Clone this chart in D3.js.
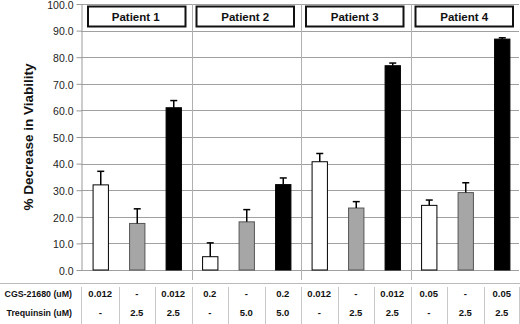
<!DOCTYPE html>
<html>
<head>
<meta charset="utf-8">
<script src="https://cdn.jsdelivr.net/npm/d3@7"></script>
<style>
  body { margin: 0; background: #fff; }
  text { font-family: "Liberation Sans", Arial, sans-serif; }
</style>
</head>
<body>
<svg id="chart"></svg>
<script>
// data
const patients = ["Patient 1", "Patient 2", "Patient 3", "Patient 4"];
const treatments = ["CGS-21680", "Trequinsin", "Combination"];
const values = [32.0, 17.5, 61.0, 5.0, 18.1, 32.1, 40.7, 23.3, 76.8, 24.3, 29.1, 86.8];
const errors = [5.1, 5.5, 2.7, 5.2, 4.6, 2.5, 3.1, 2.4, 1.0, 2.0, 3.7, 0.5];
const cgsRow = ["0.012", "-", "0.012", "0.2", "-", "0.2", "0.012", "-", "0.012", "0.05", "-", "0.05"];
const treqRow = ["-", "2.5", "2.5", "-", "5.0", "5.0", "-", "2.5", "2.5", "-", "2.5", "2.5"];
const rowLabels = ["CGS-21680 (uM)", "Trequinsin (uM)"];
const yTicks = [0, 10, 20, 30, 40, 50, 60, 70, 80, 90, 100];

const width = 520;
const height = 324;
const svg = d3.select('svg#chart').attr('width', width).attr('height', height);

const axisX = 81;
const plotRight = 519;

const bars = values.map((v, i) => ({
  i: i,
  patient: patients[Math.floor(i / 3)],
  treatment: treatments[i % 3],
  value: v,
  err: errors[i]
}));

const x = d3.scaleBand()
  .domain(d3.range(bars.length))
  .range([82, 520])
  .paddingInner(0.58)
  .paddingOuter(0.29);

const y = d3.scaleLinear().domain([0, 100]).range([270, 4]);

const fills = { "CGS-21680": "#ffffff", "Trequinsin": "#a6a6a6", "Combination": "#000000" };

// horizontal gridlines
svg.append('g').selectAll('line').data(yTicks).enter().append('line')
  .attr('x1', axisX).attr('x2', plotRight)
  .attr('y1', d => Math.round(y(d)) + 0.5).attr('y2', d => Math.round(y(d)) + 0.5)
  .attr('stroke', '#a0a0a0').attr('stroke-width', 1);

// vertical group separators
const step = x.step();
const groupEdges = [3, 6, 9].map(k => x(k) - step * x.paddingInner() / 2);
svg.append('g').selectAll('line').data(groupEdges).enter().append('line')
  .attr('x1', d => Math.round(d) + 0.5).attr('x2', d => Math.round(d) + 0.5)
  .attr('y1', y(100)).attr('y2', 280)
  .attr('stroke', '#b0b0b0').attr('stroke-width', 1);

// y axis
const yAxis = d3.axisLeft(y).tickValues(yTicks).tickFormat(d3.format('.1f'))
  .tickSizeInner(5).tickSizeOuter(0).tickPadding(3);
const yg = svg.append('g').attr('transform', `translate(${axisX + 0.5},0)`).call(yAxis);
yg.select('.domain').attr('stroke', '#999');
yg.selectAll('.tick line').attr('stroke', '#999');
yg.selectAll('.tick text').attr('font-size', 10.5).attr('fill', '#222')
  .attr('dy', '0.4em')
  .style('font-family', '"Liberation Sans", Arial, sans-serif');

// y label
svg.append('text')
  .attr('transform', `translate(33, ${(y(0) + y(100)) / 2}) rotate(-90)`)
  .attr('text-anchor', 'middle')
  .attr('font-size', 13.5).attr('font-weight', 'bold').attr('fill', '#111')
  .text('% Decrease in Viability');

// bars
svg.append('g').selectAll('rect').data(bars).enter().append('rect')
  .attr('x', d => x(d.i) + 0.5)
  .attr('y', d => y(d.value))
  .attr('width', x.bandwidth())
  .attr('height', d => y(0) - y(d.value))
  .attr('fill', d => fills[d.treatment])
  .attr('stroke', d => d.treatment === 'Trequinsin' ? '#555' : '#000')
  .attr('stroke-width', 1);

// error bars
const errG = svg.append('g');
errG.selectAll('line.stem').data(bars).enter().append('line').attr('class', 'stem')
  .attr('x1', d => x(d.i) + x.bandwidth() / 2 + 0.5)
  .attr('x2', d => x(d.i) + x.bandwidth() / 2 + 0.5)
  .attr('y1', d => y(d.value))
  .attr('y2', d => y(d.value + d.err))
  .attr('stroke', '#000').attr('stroke-width', 1.5);
errG.selectAll('line.cap').data(bars).enter().append('line').attr('class', 'cap')
  .attr('x1', d => x(d.i) + x.bandwidth() / 2 - 3)
  .attr('x2', d => x(d.i) + x.bandwidth() / 2 + 4)
  .attr('y1', d => y(d.value + d.err))
  .attr('y2', d => y(d.value + d.err))
  .attr('stroke', '#000').attr('stroke-width', 1.5);

// patient header boxes
const headers = svg.append('g').selectAll('g').data(patients).enter().append('g');
headers.append('rect')
  .attr('x', (d, k) => x(k * 3) - step * x.paddingOuter() + (k === 0 ? 6 : 5))
  .attr('y', 6.5)
  .attr('width', step * 3 - 12)
  .attr('height', 20)
  .attr('fill', '#fff').attr('stroke', '#111').attr('stroke-width', 2);
headers.append('text')
  .attr('x', (d, k) => x(k * 3) - step * x.paddingOuter() + step * 1.5 - 1)
  .attr('y', 20.5)
  .attr('text-anchor', 'middle')
  .attr('font-size', 11.5).attr('font-weight', 'bold').attr('fill', '#111')
  .text(d => d);

// table below chart
const tableTop = 283.5;
svg.append('line')
  .attr('x1', 0).attr('x2', width).attr('y1', tableTop).attr('y2', tableTop)
  .attr('stroke', '#bbb');
const colEdges = d3.range(bars.length + 1).map(k => k === 0 ? axisX : x(k) - step * x.paddingInner() / 2);
colEdges[bars.length] = plotRight;
svg.append('g').selectAll('line').data(colEdges).enter().append('line')
  .attr('x1', d => Math.round(d) + 0.5).attr('x2', d => Math.round(d) + 0.5)
  .attr('y1', 287).attr('y2', height)
  .attr('stroke', '#c8c8c8');

const rowY = [297, 316];
svg.append('g').selectAll('text').data(rowLabels).enter().append('text')
  .attr('x', 72).attr('y', (d, r) => rowY[r])
  .attr('text-anchor', 'end')
  .attr('font-size', 8.8).attr('font-weight', 'bold').attr('fill', '#111')
  .text(d => d);

[cgsRow, treqRow].forEach((row, r) => {
  svg.append('g').selectAll('text').data(row).enter().append('text')
    .attr('x', (d, i) => x(i) + x.bandwidth() / 2)
    .attr('y', rowY[r])
    .attr('text-anchor', 'middle')
    .attr('font-size', 9.5).attr('font-weight', 'bold').attr('fill', '#111')
    .text(d => d);
});
</script>
</body>
</html>
